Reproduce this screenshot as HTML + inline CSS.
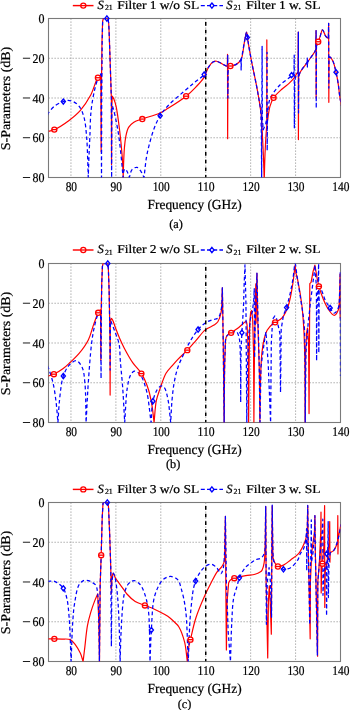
<!DOCTYPE html><html><head><meta charset="utf-8"><style>html,body{margin:0;padding:0;background:#fff;}svg{display:block;will-change:transform;}text{font-family:"Liberation Serif",serif;fill:#000;stroke:#000;stroke-width:0.22px;text-rendering:geometricPrecision;}</style></head><body>
<svg width="350" height="710" viewBox="0 0 350 710">
<rect x="0" y="0" width="350" height="710" fill="#fff"/>
<clipPath id="clip0"><rect x="48.50" y="18.50" width="292.00" height="159.00"/></clipPath>
<path d="M70.96 18.50 V177.50 M115.88 18.50 V177.50 M160.81 18.50 V177.50 M205.73 18.50 V177.50 M250.65 18.50 V177.50 M295.58 18.50 V177.50 M48.50 58.25 H340.50 M48.50 98.00 H340.50 M48.50 137.75 H340.50" stroke="#9a9a9a" stroke-width="0.95" stroke-dasharray="1.25 1.75" fill="none"/>
<rect x="48.50" y="18.50" width="292.00" height="159.00" fill="none" stroke="#7a7a7a" stroke-width="1.1"/>
<g clip-path="url(#clip0)">
<path d="M48.50 131.39 C50.45 130.79 52.04 130.65 54.34 129.60 C58.16 127.86 64.30 123.95 68.72 120.66 C72.95 117.50 76.85 114.36 80.40 110.32 C84.25 105.93 87.81 100.43 90.73 95.02 C93.66 89.57 95.76 79.93 97.92 77.73 C98.70 76.93 99.41 77.06 100.16 76.73 L100.16 76.73 L100.88 78.12 L101.15 151.66 L101.33 98.00 L101.96 42.35 L102.63 21.48 L103.31 18.50 L108.02 18.50 L108.70 23.47 L109.15 32.41 L110.18 63.02 L111.39 98.79 L111.53 164.58 L111.75 107.94 L112.29 96.21 L112.29 96.21 C112.81 97.14 113.35 97.79 113.86 98.99 C114.68 100.93 115.46 103.55 116.20 106.94 C117.47 112.76 118.72 122.96 119.70 130.99 C120.68 139.00 121.48 147.16 122.08 155.04 C122.67 162.65 122.89 170.01 123.30 177.50 L123.16 177.50 C123.36 171.54 123.51 164.97 123.75 159.61 C123.94 155.23 124.07 151.57 124.42 147.69 C124.75 143.96 125.03 140.23 125.77 136.76 C126.46 133.49 127.08 129.92 128.60 127.41 C129.92 125.24 131.73 123.63 133.85 122.25 C136.21 120.71 138.97 120.07 142.30 118.87 C146.98 117.17 154.77 115.37 159.42 113.30 C162.86 111.77 164.65 110.42 168.00 108.34 C172.96 105.24 181.12 100.17 186.10 96.21 C190.00 93.11 192.85 90.20 195.85 87.07 C198.70 84.10 201.60 81.25 203.71 77.93 C205.77 74.68 206.66 70.22 208.43 67.39 C209.80 65.19 211.32 62.99 212.92 62.03 C214.09 61.32 215.29 61.07 216.60 61.23 C218.24 61.43 220.13 62.93 221.90 63.82 C223.70 64.72 225.50 65.67 227.29 66.60 L227.29 66.60 L227.52 54.47 L227.65 138.74 L227.97 68.19 L228.64 66.60 L228.64 66.60 C229.24 66.40 229.67 66.23 230.44 66.00 C231.75 65.62 234.16 65.54 235.83 64.61 C237.72 63.55 239.66 62.08 241.00 59.64 C243.08 55.81 243.33 47.37 244.36 42.35 C245.17 38.46 245.97 31.99 246.61 32.02 C247.24 32.03 247.53 38.39 248.18 42.35 C249.07 47.75 250.28 54.76 251.55 61.43 C252.96 68.81 255.02 78.00 256.31 84.68 C257.29 89.73 257.99 93.46 258.74 98.00 C259.52 102.73 260.32 107.20 260.90 112.51 C261.59 118.91 261.92 126.48 262.33 133.78 C262.78 141.49 263.15 150.04 263.46 157.62 C263.74 164.55 263.91 170.87 264.13 177.50 L264.31 177.50 C264.55 169.55 264.68 161.60 265.03 153.65 C265.37 145.70 266.04 134.41 266.38 129.80 C266.52 127.92 266.62 127.15 266.74 125.83 L266.74 125.83 L266.83 39.97 L266.92 123.84 L267.10 123.64 L267.10 123.64 C268.05 117.88 268.61 111.04 269.97 106.35 C270.96 102.93 271.77 100.51 273.56 97.80 C275.62 94.70 279.31 91.63 282.10 89.06 C284.54 86.81 287.17 85.07 289.29 83.09 C291.14 81.36 292.91 79.70 294.23 77.93 C295.38 76.37 296.15 74.12 296.92 73.16 C297.33 72.65 297.67 72.49 298.05 72.16 L298.05 72.16 L298.27 32.21 L298.41 139.54 L298.63 77.33 L298.63 77.33 C299.04 75.87 299.04 74.65 299.84 72.96 C301.19 70.11 304.77 65.97 307.26 62.42 C309.79 58.82 313.64 53.79 314.89 51.49 C315.42 50.53 315.49 50.04 315.79 49.31 L315.79 49.31 L316.02 30.62 L316.15 98.00 L316.33 46.33 L316.33 46.33 C316.96 44.80 317.63 43.27 318.22 41.75 C318.79 40.29 319.23 39.04 319.84 37.38 C320.63 35.21 321.54 29.88 322.53 29.83 C323.43 29.78 324.41 34.35 325.45 35.79 C326.17 36.78 327.15 37.56 327.70 37.98 C327.97 38.19 328.15 38.24 328.37 38.38 L328.37 38.38 L328.64 23.27 L328.82 102.37 L329.04 57.26 L329.04 57.26 C329.27 57.12 329.44 56.80 329.72 56.86 C330.43 57.00 331.95 59.20 332.86 61.03 C334.22 63.76 335.12 68.37 336.01 72.16 C336.92 76.05 337.65 80.17 338.25 84.09 C338.84 87.85 339.07 91.55 339.60 95.22 C340.12 98.83 340.80 102.37 341.40 105.95" stroke="#ff0000" stroke-width="1.2" fill="none" stroke-linejoin="round"/>
<path d="M47.60 114.89 C47.90 114.23 47.96 113.72 48.50 112.91 C49.65 111.16 52.69 107.46 55.24 105.55 C57.66 103.74 60.98 102.45 63.32 101.58 C65.01 100.95 66.25 100.42 67.82 100.39 C69.53 100.35 71.47 100.76 73.21 101.58 C75.23 102.53 77.39 104.02 79.05 106.15 C81.17 108.87 82.76 112.90 83.99 117.28 C85.59 122.98 86.05 130.51 86.68 137.75 C87.39 145.85 87.53 156.30 87.81 163.59 C88.01 168.94 88.11 172.86 88.26 177.50 L88.26 177.50 C88.48 170.87 88.67 164.25 88.93 157.62 C89.19 151.00 89.50 144.88 89.83 137.75 C90.21 129.43 90.19 119.06 91.09 110.72 C91.87 103.45 93.18 96.28 94.50 90.45 C95.53 85.92 96.80 81.69 97.92 78.52 C98.68 76.35 99.63 73.10 100.16 73.16 C100.65 73.21 100.76 76.47 101.06 78.12 L101.06 78.12 L101.51 177.50 L101.73 98.00 L102.18 42.35 L102.63 21.48 L103.31 18.50 L108.02 18.50 L108.70 23.47 L109.15 32.41 L110.18 63.02 L111.39 98.79 L111.62 177.50 L111.84 109.92 L112.29 105.75 L112.29 105.75 C112.74 107.14 113.12 107.98 113.64 109.92 C114.78 114.23 116.79 123.71 118.00 130.99 C119.28 138.72 120.15 147.16 121.01 155.04 C121.83 162.65 122.38 170.01 123.07 177.50 L123.07 177.50 C123.37 175.18 123.40 172.00 123.97 170.54 C124.27 169.78 124.66 168.96 125.09 168.95 C125.66 168.94 126.50 170.44 127.12 171.54 C127.97 173.07 128.61 175.51 129.36 177.50 L129.36 177.50 C130.26 174.85 130.52 171.23 132.06 169.55 C133.29 168.20 135.52 167.08 137.00 167.36 C138.53 167.66 139.90 169.92 141.04 171.54 C142.26 173.27 143.02 175.51 144.01 177.50 L144.01 177.50 C144.82 170.88 145.45 163.47 146.43 157.62 C147.22 152.95 147.97 149.58 149.13 145.10 C150.49 139.82 152.30 133.18 154.29 128.01 C156.03 123.50 157.79 119.45 160.13 115.69 C162.39 112.06 164.77 109.19 168.00 105.75 C172.10 101.38 178.54 96.17 183.27 92.04 C187.27 88.54 190.88 85.52 194.50 82.50 C197.84 79.71 201.80 77.35 204.20 74.55 C206.16 72.26 206.90 69.55 208.43 67.39 C209.83 65.41 211.32 62.99 212.92 62.03 C214.09 61.32 215.29 61.07 216.60 61.23 C218.24 61.43 220.11 62.93 221.90 63.82 C223.75 64.72 225.65 65.67 227.52 66.60 L227.52 66.60 L227.74 55.27 L227.88 98.00 L228.19 68.19 L228.64 66.60 L228.64 66.60 C229.24 66.40 229.67 66.23 230.44 66.00 C231.75 65.62 234.17 65.49 235.83 64.61 C237.64 63.65 239.12 61.70 240.77 60.24 L240.77 60.24 L241.00 57.85 L241.13 69.98 L241.44 59.24 L241.44 59.24 C242.42 53.61 243.40 47.28 244.36 42.35 C245.12 38.47 245.97 31.99 246.61 32.02 C247.24 32.03 247.53 38.39 248.18 42.35 C249.07 47.75 250.28 54.76 251.55 61.43 C252.96 68.81 255.02 78.00 256.31 84.68 C257.29 89.73 258.02 93.68 258.74 98.00 C259.42 102.08 260.12 105.54 260.54 109.92 C261.04 115.27 261.04 120.36 261.21 127.81 C261.50 140.23 261.51 160.94 261.66 177.50 L261.66 177.50 L261.88 98.00 L262.11 46.33 L262.33 117.88 L263.23 129.80 L265.70 123.64 L266.92 117.88 L267.05 52.29 L267.19 150.67 L267.50 113.90 L267.50 113.90 C268.32 108.93 268.14 103.56 269.97 98.99 C271.80 94.42 275.04 90.26 278.51 86.47 C282.16 82.47 289.00 78.50 291.53 75.74 C292.82 74.34 293.18 73.35 294.00 72.16 L294.00 72.16 L294.23 55.07 L294.36 127.81 L294.68 80.11 L294.68 80.11 C295.28 78.46 295.82 76.57 296.48 75.14 C297.01 74.00 297.61 73.16 298.18 72.16 L298.18 72.16 L298.36 32.21 L298.50 112.91 L298.72 77.33 L298.72 77.33 C299.10 75.87 299.08 74.65 299.84 72.96 C301.13 70.11 304.64 65.94 307.03 62.42 L307.03 62.42 L307.26 58.05 L307.39 67.00 L307.71 62.03 L307.71 62.03 C310.10 58.51 313.69 53.73 314.89 51.49 C315.41 50.53 315.49 50.04 315.79 49.31 L315.79 49.31 L316.11 30.62 L316.24 108.34 L316.47 46.33 L316.47 46.33 C317.05 44.80 317.65 43.26 318.22 41.75 C318.77 40.28 319.23 39.04 319.84 37.38 C320.63 35.21 321.54 29.88 322.53 29.83 C323.43 29.78 324.41 34.35 325.45 35.79 C326.17 36.78 327.15 37.56 327.70 37.98 C327.97 38.19 328.15 38.24 328.37 38.38 L328.37 38.38 L328.64 23.27 L328.82 88.06 L329.04 57.26 L329.04 57.26 C329.27 57.12 329.44 56.80 329.72 56.86 C330.43 57.00 331.95 59.20 332.86 61.03 C334.22 63.76 335.12 68.37 336.01 72.16 C336.92 76.05 337.65 80.17 338.25 84.09 C338.84 87.85 339.07 91.55 339.60 95.22 C340.12 98.83 340.80 102.37 341.40 105.95" stroke="#0000ff" stroke-width="1.25" fill="none" stroke-dasharray="3.7 2.7" stroke-linejoin="round"/>
<path d="M205.73 18.50 V177.50" stroke="#000" stroke-width="1.5" stroke-dasharray="3.6 4.05" stroke-dashoffset="4.1"/>
</g>
<circle cx="54.34" cy="129.60" r="2.55" fill="#fff" stroke="#ff0000" stroke-width="1.3"/><path d="M51.79 129.60 h5.1" stroke="#ff0000" stroke-width="1.3"/>
<circle cx="97.92" cy="77.73" r="2.55" fill="#fff" stroke="#ff0000" stroke-width="1.3"/><path d="M95.37 77.73 h5.1" stroke="#ff0000" stroke-width="1.3"/>
<circle cx="142.30" cy="119.07" r="2.55" fill="#fff" stroke="#ff0000" stroke-width="1.3"/><path d="M139.75 119.07 h5.1" stroke="#ff0000" stroke-width="1.3"/>
<circle cx="186.10" cy="96.21" r="2.55" fill="#fff" stroke="#ff0000" stroke-width="1.3"/><path d="M183.55 96.21 h5.1" stroke="#ff0000" stroke-width="1.3"/>
<circle cx="230.44" cy="66.00" r="2.55" fill="#fff" stroke="#ff0000" stroke-width="1.3"/><path d="M227.89 66.00 h5.1" stroke="#ff0000" stroke-width="1.3"/>
<circle cx="273.56" cy="97.80" r="2.55" fill="#fff" stroke="#ff0000" stroke-width="1.3"/><path d="M271.01 97.80 h5.1" stroke="#ff0000" stroke-width="1.3"/>
<circle cx="318.22" cy="41.75" r="2.55" fill="#fff" stroke="#ff0000" stroke-width="1.3"/><path d="M315.67 41.75 h5.1" stroke="#ff0000" stroke-width="1.3"/>
<path d="M63.32 98.98 L65.40 101.58 L63.32 104.18 L61.24 101.58 Z" fill="none" stroke="#0000ff" stroke-width="1.35" stroke-linejoin="miter"/>
<path d="M106.90 15.90 L108.98 18.50 L106.90 21.10 L104.82 18.50 Z" fill="none" stroke="#0000ff" stroke-width="1.35" stroke-linejoin="miter"/>
<path d="M160.13 113.09 L162.21 115.69 L160.13 118.29 L158.05 115.69 Z" fill="none" stroke="#0000ff" stroke-width="1.35" stroke-linejoin="miter"/>
<path d="M204.20 71.95 L206.28 74.55 L204.20 77.15 L202.12 74.55 Z" fill="none" stroke="#0000ff" stroke-width="1.35" stroke-linejoin="miter"/>
<path d="M247.28 34.78 L249.36 37.38 L247.28 39.98 L245.20 37.38 Z" fill="none" stroke="#0000ff" stroke-width="1.35" stroke-linejoin="miter"/>
<path d="M291.53 72.54 L293.61 75.14 L291.53 77.74 L289.45 75.14 Z" fill="none" stroke="#0000ff" stroke-width="1.35" stroke-linejoin="miter"/>
<path d="M336.01 69.56 L338.09 72.16 L336.01 74.76 L333.93 72.16 Z" fill="none" stroke="#0000ff" stroke-width="1.35" stroke-linejoin="miter"/>
<text x="44.4" y="23.00" font-size="13.1" text-anchor="end" textLength="6.00" lengthAdjust="spacingAndGlyphs">0</text>
<text x="44.4" y="62.75" font-size="13.1" text-anchor="end" textLength="12.00" lengthAdjust="spacingAndGlyphs">20</text>
<rect x="22.9" y="57.75" width="7.2" height="0.95" fill="#111"/>
<text x="44.4" y="102.50" font-size="13.1" text-anchor="end" textLength="12.00" lengthAdjust="spacingAndGlyphs">40</text>
<rect x="22.9" y="97.50" width="7.2" height="0.95" fill="#111"/>
<text x="44.4" y="142.25" font-size="13.1" text-anchor="end" textLength="12.00" lengthAdjust="spacingAndGlyphs">60</text>
<rect x="22.9" y="137.25" width="7.2" height="0.95" fill="#111"/>
<text x="44.4" y="182.00" font-size="13.1" text-anchor="end" textLength="12.00" lengthAdjust="spacingAndGlyphs">80</text>
<rect x="22.9" y="177.00" width="7.2" height="0.95" fill="#111"/>
<text x="71.36" y="190.50" font-size="13.2" text-anchor="middle" textLength="11.40" lengthAdjust="spacingAndGlyphs">80</text>
<text x="116.28" y="190.50" font-size="13.2" text-anchor="middle" textLength="11.40" lengthAdjust="spacingAndGlyphs">90</text>
<text x="161.21" y="190.50" font-size="13.2" text-anchor="middle" textLength="17.10" lengthAdjust="spacingAndGlyphs">100</text>
<text x="206.13" y="190.50" font-size="13.2" text-anchor="middle" textLength="17.10" lengthAdjust="spacingAndGlyphs">110</text>
<text x="251.05" y="190.50" font-size="13.2" text-anchor="middle" textLength="17.10" lengthAdjust="spacingAndGlyphs">120</text>
<text x="295.98" y="190.50" font-size="13.2" text-anchor="middle" textLength="17.10" lengthAdjust="spacingAndGlyphs">130</text>
<text x="340.90" y="190.50" font-size="13.2" text-anchor="middle" textLength="17.10" lengthAdjust="spacingAndGlyphs">140</text>
<text x="194.6" y="209.00" font-size="13.8" text-anchor="middle" textLength="94" lengthAdjust="spacingAndGlyphs">Frequency (GHz)</text>
<text x="176.00" y="227.70" font-size="12.3" text-anchor="middle">(a)</text>
<text transform="translate(9.8 98.50) rotate(-90)" font-size="13.3" text-anchor="middle" textLength="103.5" lengthAdjust="spacingAndGlyphs">S-Parameters (dB)</text>
<path d="M72.8 5.60 H93.5" stroke="#ff0000" stroke-width="1.45"/>
<circle cx="83.30" cy="5.60" r="2.55" fill="#fff" stroke="#ff0000" stroke-width="1.3"/><path d="M80.75 5.60 h5.1" stroke="#ff0000" stroke-width="1.3"/>
<text x="97.6" y="9.00" font-size="12.6" font-style="italic">S</text><text x="104.9" y="10.20" font-size="7.8">21</text>
<text x="117.2" y="9.00" font-size="12" textLength="82" lengthAdjust="spacingAndGlyphs">Filter 1 w/o SL</text>
<path d="M200.8 5.60 H223" stroke="#0000ff" stroke-width="1.4" stroke-dasharray="4 2.2"/>
<path d="M211.90 3.00 L213.98 5.60 L211.90 8.20 L209.82 5.60 Z" fill="none" stroke="#0000ff" stroke-width="1.35" stroke-linejoin="miter"/>
<text x="226.2" y="9.00" font-size="12.6" font-style="italic">S</text><text x="233.6" y="10.20" font-size="7.8">21</text>
<text x="246.2" y="9.00" font-size="12" textLength="74.3" lengthAdjust="spacingAndGlyphs">Filter 1 w. SL</text>
<clipPath id="clip1"><rect x="48.50" y="263.50" width="292.00" height="159.00"/></clipPath>
<path d="M70.96 263.50 V422.50 M115.88 263.50 V422.50 M160.81 263.50 V422.50 M205.73 263.50 V422.50 M250.65 263.50 V422.50 M295.58 263.50 V422.50 M48.50 303.25 H340.50 M48.50 343.00 H340.50 M48.50 382.75 H340.50" stroke="#9a9a9a" stroke-width="0.95" stroke-dasharray="1.25 1.75" fill="none"/>
<rect x="48.50" y="263.50" width="292.00" height="159.00" fill="none" stroke="#7a7a7a" stroke-width="1.1"/>
<g clip-path="url(#clip1)">
<path d="M47.60 376.39 C47.90 376.26 48.07 376.16 48.50 375.99 C49.54 375.59 51.92 375.11 53.89 374.20 C56.57 372.98 60.11 370.86 62.88 368.84 C65.56 366.87 67.76 364.65 70.29 362.28 C73.09 359.65 76.13 357.07 78.91 353.73 C82.17 349.83 85.87 344.86 88.30 340.02 C90.67 335.31 91.70 329.83 93.42 325.11 C95.00 320.79 96.84 315.32 98.18 312.79 C98.84 311.55 99.38 311.07 99.98 310.21 L99.98 310.21 L100.61 309.81 L100.84 360.49 L101.15 313.19 L101.73 283.38 L102.41 266.48 L103.08 263.50 L107.80 263.50 L108.34 268.47 L109.15 291.32 L109.95 339.02 L110.13 395.07 L110.31 327.10 L110.72 320.14 L110.72 320.14 C110.94 319.55 111.08 318.39 111.39 318.36 C111.74 318.31 112.27 319.42 112.74 320.34 C113.64 322.10 114.64 325.68 115.70 328.49 C116.87 331.55 118.09 334.83 119.48 338.03 C120.93 341.38 122.36 344.52 124.29 348.17 C126.66 352.66 129.83 358.48 132.87 362.88 C135.57 366.79 138.92 369.32 141.40 373.41 C144.24 378.09 146.72 384.22 148.50 389.71 C150.20 394.96 151.08 400.20 152.00 405.61 C152.95 411.13 153.38 416.87 154.07 422.50 L154.07 422.50 C154.82 415.21 155.07 406.72 156.32 400.64 C157.24 396.13 158.48 393.24 159.91 389.11 C161.61 384.21 163.61 377.35 166.02 373.21 C167.82 370.11 170.02 368.22 172.04 365.86 C173.98 363.59 175.65 361.62 177.88 359.30 C180.60 356.46 184.30 353.29 187.31 350.15 C190.29 347.06 192.94 343.90 195.85 340.62 C198.92 337.15 201.95 332.55 205.28 329.88 C208.06 327.66 211.74 326.69 214.00 325.11 C215.62 323.98 216.79 323.30 217.86 321.73 C219.30 319.62 220.25 316.73 221.00 312.99 C222.25 306.82 221.90 296.16 222.35 287.75 L222.35 287.75 L223.25 343.00 L224.15 422.50 L224.15 422.50 C224.45 399.31 224.23 368.18 225.05 352.94 C225.45 345.46 224.79 339.52 226.62 336.24 C227.68 334.35 229.48 334.05 231.11 332.86 C233.02 331.48 235.40 330.03 237.40 328.49 C239.36 326.98 241.40 325.02 243.02 323.72 C244.20 322.77 245.49 321.09 246.16 321.34 C246.83 321.58 246.76 323.85 247.06 325.11 L247.06 325.11 L247.73 339.02 L248.41 362.88 L248.63 422.50 L249.08 362.88 L249.76 323.12 L250.65 312.19 L251.55 310.60 L252.68 319.15 L253.57 352.94 L253.89 422.50 L254.47 352.94 L255.15 313.19 L255.82 283.97 L256.04 323.12 L256.49 303.25 L256.94 273.24 L257.84 323.12 L259.41 372.81 L259.86 422.50 L259.86 422.50 C260.09 407.93 260.11 391.44 260.54 378.77 C260.87 369.03 261.11 360.21 261.88 352.94 C262.46 347.57 263.11 343.09 264.13 339.02 C264.96 335.73 265.63 332.88 267.14 330.28 C268.63 327.72 271.57 324.80 273.12 323.52 C273.90 322.87 274.27 322.88 275.14 322.33 C276.81 321.28 280.28 319.89 282.32 317.56 C284.90 314.62 286.76 309.98 288.39 305.24 C290.40 299.38 291.53 291.55 292.66 284.77 C293.76 278.16 294.30 271.65 295.13 265.09 L295.13 265.09 C295.43 267.81 295.56 270.61 296.03 273.24 C296.47 275.77 297.17 277.41 297.82 280.59 C299.00 286.38 300.86 296.95 301.87 305.24 C302.88 313.58 303.40 321.81 303.89 330.48 C304.40 339.67 304.58 347.54 304.79 358.90 C305.10 375.89 305.00 401.30 305.10 422.50 L305.10 422.50 L305.68 352.94 L306.58 333.06 L307.48 328.09 L308.60 343.00 L309.05 413.56 L309.50 333.06 L309.82 283.57 L311.08 282.38 L313.10 271.45 L314.89 265.09 L317.14 278.41 L317.14 278.41 C317.74 281.06 318.10 283.40 318.94 286.36 C320.03 290.21 321.70 295.40 323.43 299.47 C325.03 303.24 326.78 307.21 328.82 310.01 C330.46 312.25 332.60 315.49 334.21 315.37 C335.72 315.27 337.37 312.24 338.25 310.01 C339.36 307.20 339.12 303.11 339.38 299.47 C339.66 295.58 339.68 291.39 339.83 287.35 L339.83 287.35 L340.05 274.03 L340.19 318.55" stroke="#ff0000" stroke-width="1.2" fill="none" stroke-linejoin="round"/>
<path d="M47.60 365.86 C47.90 366.65 48.11 367.10 48.50 368.24 C49.45 371.02 51.77 377.49 52.99 382.75 C54.40 388.81 55.31 395.99 56.14 402.62 C56.96 409.24 57.33 415.88 57.93 422.50 L57.93 422.50 C58.38 415.88 58.65 409.24 59.28 402.62 C59.91 395.99 60.83 387.61 61.71 382.75 C62.22 379.89 62.42 378.42 63.32 375.99 C64.50 372.85 66.34 368.27 68.72 365.66 C70.81 363.35 74.10 360.37 76.35 360.69 C78.58 361.00 80.79 364.50 82.19 367.45 C84.04 371.34 84.24 376.43 84.89 382.75 C85.93 392.87 85.70 409.25 86.10 422.50 L86.10 422.50 C86.45 415.88 86.77 409.25 87.13 402.62 C87.50 396.00 87.75 390.51 88.30 382.75 C89.08 371.77 90.33 353.25 91.63 343.00 C92.45 336.49 93.23 332.02 94.32 327.10 C95.29 322.76 96.55 317.83 97.69 314.98 C98.36 313.31 99.19 311.18 99.71 311.20 C100.09 311.21 100.31 312.52 100.61 313.19 L100.61 313.19 L101.06 378.58 L101.28 323.12 L101.73 283.38 L102.41 266.48 L103.08 263.50 L107.80 263.50 L108.34 268.47 L109.15 291.32 L109.95 339.02 L110.13 370.03 L110.40 323.12 L110.81 320.94 L110.81 320.94 C112.20 324.58 113.64 328.13 114.99 331.87 C116.38 335.75 118.12 339.35 119.03 343.79 C120.11 349.09 119.84 355.22 120.38 361.68 C121.01 369.33 121.95 377.63 122.62 386.73 C123.42 397.58 124.00 410.57 124.69 422.50 L124.69 422.50 C125.56 410.97 125.84 396.66 127.30 387.92 C128.20 382.45 129.04 377.67 130.71 374.80 C131.74 373.04 133.05 371.49 134.39 371.22 C135.62 370.98 137.20 371.99 138.35 372.81 C139.55 373.68 140.40 374.66 141.40 376.39 C143.24 379.59 145.23 385.48 146.70 391.50 C148.75 399.91 149.64 412.17 151.10 422.50 L151.10 422.50 C151.70 415.41 151.57 407.17 152.90 401.23 C153.91 396.73 155.43 392.37 157.21 389.71 C158.41 387.92 159.94 386.09 161.26 385.93 C162.32 385.80 163.50 386.60 164.40 387.72 C166.00 389.71 166.87 394.25 167.82 398.65 C169.18 405.02 169.73 414.55 170.69 422.50 L170.69 422.50 C171.14 414.95 171.38 406.94 172.04 399.84 C172.62 393.52 173.24 387.58 174.28 381.95 C175.24 376.84 176.26 372.20 177.88 367.45 C179.53 362.59 181.96 357.77 184.17 353.14 C186.31 348.64 188.49 344.08 190.91 340.02 C193.15 336.24 195.51 332.46 198.09 329.49 C200.35 326.89 202.74 324.58 205.28 322.93 C207.56 321.44 210.22 320.57 212.47 319.75 C214.37 319.05 216.48 319.39 217.86 318.16 C219.52 316.67 220.25 313.88 221.00 310.60 C222.27 305.12 221.90 295.37 222.35 287.75 L222.35 287.75 L223.25 343.00 L224.15 422.50 L224.15 422.50 C224.45 399.31 224.23 368.18 225.05 352.94 C225.45 345.46 224.79 339.52 226.62 336.24 C227.68 334.35 229.48 333.63 231.11 332.86 C232.70 332.12 234.98 331.06 236.28 331.67 C237.66 332.32 238.31 334.64 238.97 337.04 C240.12 341.18 240.02 347.53 240.32 354.93 C240.82 366.93 240.56 386.46 240.68 402.23 L240.68 402.23 L241.00 352.94 L241.89 332.66 L243.47 307.23 L244.18 283.38 L244.99 264.89 L245.94 303.25 L246.79 422.50 L247.51 362.88 L248.86 333.06 L250.65 317.16 L252.45 311.20 L253.80 299.27 L254.25 288.74 L254.61 357.91 L255.15 323.12 L256.04 299.27 L256.94 273.24 L257.84 313.19 L259.19 362.88 L260.00 422.50 L260.99 366.85 L264.13 343.00 L265.93 331.87 L268.17 362.88 L270.60 422.50 L271.32 343.00 L272.67 319.15 L274.91 315.97 L276.71 319.15 L279.85 333.06 L280.53 392.49 L281.20 329.09 L283.45 315.18 L286.59 307.62 L286.59 307.62 C287.79 302.85 289.13 298.06 290.19 293.31 C291.22 288.66 292.08 284.20 292.88 279.40 C293.74 274.29 294.41 263.50 295.13 263.50 C295.75 263.50 296.20 270.70 296.92 275.43 C297.99 282.36 299.74 292.78 300.97 301.06 C302.12 308.84 303.42 315.12 304.11 323.72 C305.02 334.98 304.82 348.46 305.01 362.88 C305.25 380.67 305.16 402.62 305.24 422.50 L305.24 422.50 L305.91 352.94 L308.16 323.12 L310.85 299.27 L313.10 281.39 L314.44 271.05 L314.89 265.09 L316.02 281.39 L316.42 287.35 L316.60 360.89 L316.92 313.19 L318.26 279.40 L318.62 263.50 L318.80 352.94 L319.16 291.32 L319.16 291.32 C319.78 290.86 320.38 289.76 321.00 289.93 C322.37 290.31 323.60 297.14 325.23 300.27 C326.70 303.11 328.55 305.73 330.17 308.02 C331.54 309.95 332.86 313.19 334.21 313.19 C335.56 313.19 337.33 310.36 338.25 308.02 C339.65 304.51 339.30 298.15 339.60 293.31 C339.89 288.61 339.90 284.04 340.05 279.40 L340.05 279.40 L340.28 271.45 L340.50 375.99" stroke="#0000ff" stroke-width="1.25" fill="none" stroke-dasharray="3.7 2.7" stroke-linejoin="round"/>
<path d="M205.73 263.50 V422.50" stroke="#000" stroke-width="1.5" stroke-dasharray="3.6 4.05" stroke-dashoffset="4.1"/>
</g>
<circle cx="53.89" cy="374.20" r="2.55" fill="#fff" stroke="#ff0000" stroke-width="1.3"/><path d="M51.34 374.20 h5.1" stroke="#ff0000" stroke-width="1.3"/>
<circle cx="98.18" cy="312.79" r="2.55" fill="#fff" stroke="#ff0000" stroke-width="1.3"/><path d="M95.63 312.79 h5.1" stroke="#ff0000" stroke-width="1.3"/>
<circle cx="141.40" cy="373.61" r="2.55" fill="#fff" stroke="#ff0000" stroke-width="1.3"/><path d="M138.85 373.61 h5.1" stroke="#ff0000" stroke-width="1.3"/>
<circle cx="187.31" cy="350.15" r="2.55" fill="#fff" stroke="#ff0000" stroke-width="1.3"/><path d="M184.76 350.15 h5.1" stroke="#ff0000" stroke-width="1.3"/>
<circle cx="231.11" cy="332.86" r="2.55" fill="#fff" stroke="#ff0000" stroke-width="1.3"/><path d="M228.56 332.86 h5.1" stroke="#ff0000" stroke-width="1.3"/>
<circle cx="275.14" cy="322.33" r="2.55" fill="#fff" stroke="#ff0000" stroke-width="1.3"/><path d="M272.59 322.33 h5.1" stroke="#ff0000" stroke-width="1.3"/>
<circle cx="318.94" cy="286.36" r="2.55" fill="#fff" stroke="#ff0000" stroke-width="1.3"/><path d="M316.39 286.36 h5.1" stroke="#ff0000" stroke-width="1.3"/>
<path d="M63.32 373.39 L65.40 375.99 L63.32 378.59 L61.24 375.99 Z" fill="none" stroke="#0000ff" stroke-width="1.35" stroke-linejoin="miter"/>
<path d="M107.80 260.90 L109.88 263.50 L107.80 266.10 L105.72 263.50 Z" fill="none" stroke="#0000ff" stroke-width="1.35" stroke-linejoin="miter"/>
<path d="M152.90 398.63 L154.98 401.23 L152.90 403.83 L150.82 401.23 Z" fill="none" stroke="#0000ff" stroke-width="1.35" stroke-linejoin="miter"/>
<path d="M198.09 326.88 L200.17 329.49 L198.09 332.09 L196.01 329.49 Z" fill="none" stroke="#0000ff" stroke-width="1.35" stroke-linejoin="miter"/>
<path d="M241.89 330.06 L243.97 332.66 L241.89 335.26 L239.81 332.66 Z" fill="none" stroke="#0000ff" stroke-width="1.35" stroke-linejoin="miter"/>
<path d="M286.59 305.02 L288.67 307.62 L286.59 310.22 L284.51 307.62 Z" fill="none" stroke="#0000ff" stroke-width="1.35" stroke-linejoin="miter"/>
<path d="M330.17 305.42 L332.25 308.02 L330.17 310.62 L328.09 308.02 Z" fill="none" stroke="#0000ff" stroke-width="1.35" stroke-linejoin="miter"/>
<text x="44.4" y="268.00" font-size="13.1" text-anchor="end" textLength="6.00" lengthAdjust="spacingAndGlyphs">0</text>
<text x="44.4" y="307.75" font-size="13.1" text-anchor="end" textLength="12.00" lengthAdjust="spacingAndGlyphs">20</text>
<rect x="22.9" y="302.75" width="7.2" height="0.95" fill="#111"/>
<text x="44.4" y="347.50" font-size="13.1" text-anchor="end" textLength="12.00" lengthAdjust="spacingAndGlyphs">40</text>
<rect x="22.9" y="342.50" width="7.2" height="0.95" fill="#111"/>
<text x="44.4" y="387.25" font-size="13.1" text-anchor="end" textLength="12.00" lengthAdjust="spacingAndGlyphs">60</text>
<rect x="22.9" y="382.25" width="7.2" height="0.95" fill="#111"/>
<text x="44.4" y="427.00" font-size="13.1" text-anchor="end" textLength="12.00" lengthAdjust="spacingAndGlyphs">80</text>
<rect x="22.9" y="422.00" width="7.2" height="0.95" fill="#111"/>
<text x="71.36" y="435.50" font-size="13.2" text-anchor="middle" textLength="11.40" lengthAdjust="spacingAndGlyphs">80</text>
<text x="116.28" y="435.50" font-size="13.2" text-anchor="middle" textLength="11.40" lengthAdjust="spacingAndGlyphs">90</text>
<text x="161.21" y="435.50" font-size="13.2" text-anchor="middle" textLength="17.10" lengthAdjust="spacingAndGlyphs">100</text>
<text x="206.13" y="435.50" font-size="13.2" text-anchor="middle" textLength="17.10" lengthAdjust="spacingAndGlyphs">110</text>
<text x="251.05" y="435.50" font-size="13.2" text-anchor="middle" textLength="17.10" lengthAdjust="spacingAndGlyphs">120</text>
<text x="295.98" y="435.50" font-size="13.2" text-anchor="middle" textLength="17.10" lengthAdjust="spacingAndGlyphs">130</text>
<text x="340.90" y="435.50" font-size="13.2" text-anchor="middle" textLength="17.10" lengthAdjust="spacingAndGlyphs">140</text>
<text x="194.6" y="454.00" font-size="13.8" text-anchor="middle" textLength="94" lengthAdjust="spacingAndGlyphs">Frequency (GHz)</text>
<text x="173.10" y="467.60" font-size="12.3" text-anchor="middle">(b)</text>
<text transform="translate(9.8 343.50) rotate(-90)" font-size="13.3" text-anchor="middle" textLength="103.5" lengthAdjust="spacingAndGlyphs">S-Parameters (dB)</text>
<path d="M72.8 250.00 H93.5" stroke="#ff0000" stroke-width="1.45"/>
<circle cx="83.30" cy="250.00" r="2.55" fill="#fff" stroke="#ff0000" stroke-width="1.3"/><path d="M80.75 250.00 h5.1" stroke="#ff0000" stroke-width="1.3"/>
<text x="97.6" y="253.40" font-size="12.6" font-style="italic">S</text><text x="104.9" y="254.60" font-size="7.8">21</text>
<text x="117.2" y="253.40" font-size="12" textLength="82" lengthAdjust="spacingAndGlyphs">Filter 2 w/o SL</text>
<path d="M200.8 250.00 H223" stroke="#0000ff" stroke-width="1.4" stroke-dasharray="4 2.2"/>
<path d="M211.90 247.40 L213.98 250.00 L211.90 252.60 L209.82 250.00 Z" fill="none" stroke="#0000ff" stroke-width="1.35" stroke-linejoin="miter"/>
<text x="226.2" y="253.40" font-size="12.6" font-style="italic">S</text><text x="233.6" y="254.60" font-size="7.8">21</text>
<text x="246.2" y="253.40" font-size="12" textLength="74.3" lengthAdjust="spacingAndGlyphs">Filter 2 w. SL</text>
<clipPath id="clip2"><rect x="48.50" y="502.50" width="292.00" height="159.00"/></clipPath>
<path d="M70.96 502.50 V661.50 M115.88 502.50 V661.50 M160.81 502.50 V661.50 M205.73 502.50 V661.50 M250.65 502.50 V661.50 M295.58 502.50 V661.50 M48.50 542.25 H340.50 M48.50 582.00 H340.50 M48.50 621.75 H340.50" stroke="#9a9a9a" stroke-width="0.95" stroke-dasharray="1.25 1.75" fill="none"/>
<rect x="48.50" y="502.50" width="292.00" height="159.00" fill="none" stroke="#7a7a7a" stroke-width="1.1"/>
<g clip-path="url(#clip2)">
<path d="M47.60 638.84 C47.90 638.84 48.07 638.84 48.50 638.84 C49.60 638.84 52.26 638.82 54.34 638.84 C56.72 638.87 59.38 638.91 61.98 639.04 C64.69 639.17 68.00 638.59 70.29 639.64 C72.43 640.62 73.87 642.75 75.45 644.81 C77.29 647.20 79.10 650.47 80.40 653.35 C81.60 656.04 82.19 658.78 83.09 661.50 L83.09 661.50 C83.69 656.53 84.24 651.97 84.89 646.59 C85.65 640.27 86.28 632.05 87.40 625.92 C88.32 620.91 89.50 616.61 90.73 612.41 C91.83 608.65 93.08 605.12 94.32 601.88 C95.41 599.02 96.57 596.57 97.69 593.92 L97.69 593.92 L98.81 621.75 L99.49 661.50 L100.16 584.98 L101.19 555.17 L102.18 518.40 L102.99 503.49 L103.76 502.50 L107.80 502.50 L108.47 506.48 L109.60 532.31 L110.72 566.10 L111.39 593.53 L111.84 578.02 L111.84 578.02 C112.29 576.37 112.60 573.10 113.19 573.06 C113.79 573.01 114.58 576.54 115.44 578.02 C116.20 579.36 116.96 580.16 118.00 581.60 C119.57 583.80 122.37 587.71 123.97 589.95 C125.05 591.45 125.42 592.32 126.67 593.73 C128.64 595.94 132.08 599.51 135.20 601.48 C138.18 603.36 141.69 604.15 144.90 605.45 C148.08 606.74 151.18 607.77 154.38 609.23 C157.82 610.79 162.01 612.94 164.85 614.60 C166.91 615.79 168.35 616.67 170.02 617.97 C171.80 619.36 173.65 621.19 175.18 622.74 C176.52 624.10 177.61 624.81 178.78 626.72 C180.83 630.08 183.21 636.69 184.62 642.22 C186.15 648.22 186.41 655.07 187.31 661.50 L187.31 661.50 C187.76 656.86 188.02 651.56 188.66 647.59 C189.15 644.55 189.67 642.93 190.46 639.64 C191.75 634.18 193.52 625.18 195.85 617.97 C198.27 610.47 202.15 601.56 204.83 595.51 C206.70 591.30 208.11 588.65 210.00 584.98 C212.11 580.88 214.70 575.26 216.96 572.06 C218.49 569.90 220.28 568.72 221.45 567.09 C222.42 565.75 223.16 564.38 223.70 563.12 C224.14 562.08 224.30 561.13 224.60 560.14 L224.60 560.14 L225.41 516.41 L225.95 601.88 L226.40 649.97 L227.07 601.88 L228.64 582.79 L228.64 582.79 C229.24 581.87 229.59 580.75 230.44 580.01 C231.40 579.17 232.64 578.79 234.30 578.22 C237.06 577.28 242.09 576.32 245.71 575.64 C248.96 575.03 252.42 574.99 255.01 574.25 C257.00 573.68 258.83 572.91 260.09 572.06 C260.99 571.46 261.53 571.05 262.11 570.08 C263.04 568.50 263.63 565.96 264.13 562.92 C264.97 557.85 264.88 549.14 265.25 542.25 L265.25 542.25 L265.70 506.48 L266.15 582.00 L267.72 657.92 L268.40 601.88 L269.30 585.78 L270.20 601.88 L271.32 634.27 L271.77 562.12 L272.22 505.88 L272.67 542.25 L272.89 557.16 L272.89 557.16 C273.56 559.08 273.99 561.30 274.91 562.92 C275.72 564.34 276.60 566.07 277.92 566.50 C279.38 566.97 281.57 565.98 283.45 565.11 C285.79 564.02 288.26 561.71 290.64 559.94 C293.05 558.14 296.17 556.00 297.82 554.37 C298.86 553.36 299.26 552.87 300.07 551.59 C301.51 549.32 304.07 543.86 305.01 541.46 C305.51 540.19 305.62 539.72 305.91 538.47 C306.38 536.44 306.81 533.04 307.26 530.33 L307.26 530.33 L307.71 505.48 L308.16 542.25 L310.18 638.84 L310.40 582.00 L311.75 552.19 L314.44 532.31 L314.89 515.62 L315.34 552.19 L317.59 656.13 L317.81 582.00 L319.39 562.12 L320.73 532.31 L321.00 512.04 L321.18 592.93 L321.63 572.06 L322.40 563.72 L323.88 546.23 L324.60 505.48 L324.78 607.44 L325.23 572.06 L327.02 562.12 L329.27 542.25 L329.72 521.58 L329.94 562.12 L330.17 552.78 L330.17 552.78 C331.37 551.99 332.80 551.45 333.76 550.40 C334.77 549.29 335.36 547.62 336.01 546.23 C336.62 544.90 337.06 543.58 337.58 542.25 L337.58 542.25 L337.80 515.62 L337.94 553.98 L338.25 538.47 L338.25 538.47 C338.63 536.42 338.96 534.50 339.38 532.31 C339.85 529.83 340.43 527.01 340.95 524.36" stroke="#ff0000" stroke-width="1.2" fill="none" stroke-linejoin="round"/>
<path d="M47.60 581.40 C47.90 581.40 48.09 581.42 48.50 581.40 C49.43 581.36 51.60 580.81 52.99 581.01 C54.28 581.19 55.28 581.60 56.59 582.40 C58.58 583.61 61.63 585.83 63.32 588.36 C65.19 591.15 65.99 594.67 66.92 598.69 C68.15 604.03 68.54 610.10 69.16 617.77 C70.10 629.36 70.45 646.92 71.10 661.50 L71.10 661.50 C71.65 648.25 72.01 632.42 72.76 621.75 C73.27 614.54 73.55 609.71 74.56 603.66 C75.58 597.45 76.68 588.86 78.91 584.98 C80.20 582.75 81.84 581.28 83.54 580.61 C85.01 580.02 86.80 580.27 88.30 580.61 C89.79 580.94 91.24 581.76 92.52 582.60 C93.80 583.42 95.14 584.14 95.98 585.58 C97.13 587.54 97.25 590.31 97.69 593.92 C98.49 600.47 98.54 611.65 98.81 621.75 C99.15 633.82 99.20 648.25 99.40 661.50 L99.40 661.50 L100.16 584.98 L101.19 555.17 L102.18 518.40 L102.99 503.49 L103.76 502.50 L107.80 502.50 L108.47 506.48 L109.60 532.31 L110.72 566.10 L111.39 646.39 L111.84 582.00 L113.19 573.06 L113.19 573.06 C113.56 573.72 113.97 574.15 114.31 575.04 C114.92 576.63 115.41 579.19 115.88 582.00 C116.60 586.20 117.19 592.06 117.68 597.90 C118.29 605.04 118.65 612.79 119.03 621.75 C119.51 633.31 119.75 648.25 120.11 661.50 L120.11 661.50 C120.35 653.55 120.53 645.03 120.83 637.65 C121.08 631.26 121.35 625.72 121.72 619.76 C122.10 613.80 122.51 606.74 123.07 601.88 C123.47 598.50 123.68 596.12 124.42 593.33 C125.17 590.49 126.19 587.04 127.56 584.98 C128.58 583.45 129.91 582.33 131.16 581.60 C132.18 581.01 133.15 580.46 134.30 580.61 C135.90 580.81 138.17 582.36 139.69 583.99 C141.51 585.93 142.75 588.68 144.01 591.94 C145.77 596.51 147.21 601.84 148.23 609.23 C149.97 621.89 149.43 644.08 150.03 661.50 L150.03 661.50 C150.48 651.03 150.66 640.69 151.37 630.10 C152.10 619.23 152.10 605.90 154.38 597.11 C156.02 590.81 158.72 584.91 161.26 581.60 C162.81 579.58 164.47 578.49 166.20 577.63 C167.71 576.87 169.22 576.26 170.92 576.43 C173.05 576.65 176.20 577.99 177.88 579.81 C179.66 581.75 180.01 584.56 181.02 587.96 C182.62 593.34 184.38 600.52 185.52 609.23 C187.28 622.75 187.31 644.08 188.21 661.50 L188.21 661.50 C189.11 644.08 189.30 623.95 190.91 609.23 C192.09 598.34 192.68 588.56 195.62 581.01 C197.88 575.21 201.54 569.55 204.83 566.89 C206.98 565.16 209.51 564.06 211.57 564.31 C213.54 564.55 215.40 566.55 216.96 568.09 C218.56 569.66 219.94 573.78 221.00 573.65 C222.00 573.53 222.68 570.47 223.25 568.09 C224.18 564.20 224.15 557.49 224.60 552.19 L224.60 552.19 L225.41 516.41 L226.40 582.00 L228.19 631.69 L230.44 661.50 L230.44 661.50 C230.89 648.25 231.15 633.23 231.79 621.75 C232.27 612.96 232.42 605.04 233.58 598.50 C234.46 593.57 236.12 589.52 237.18 585.78 C238.01 582.82 238.24 580.60 239.42 577.83 C240.87 574.43 243.24 569.91 245.71 567.09 C247.83 564.68 251.21 562.82 252.90 561.53 C253.81 560.83 254.10 560.39 255.01 559.94 C256.29 559.31 258.81 559.14 260.09 558.55 C260.96 558.14 261.49 557.87 262.11 557.16 C263.05 556.08 264.02 554.34 264.58 552.19 C265.47 548.78 265.03 542.91 265.25 538.27 L265.25 538.27 L265.70 506.48 L266.15 582.00 L266.38 624.33 L267.28 582.00 L269.07 567.69 L270.42 582.00 L271.54 617.18 L271.86 542.25 L272.22 505.08 L272.89 552.19 L273.56 561.13 L273.56 561.13 C274.61 562.46 275.63 564.06 276.71 565.11 C277.59 565.95 278.39 566.45 279.40 567.09 C280.59 567.85 281.86 569.06 283.45 569.28 C285.46 569.56 288.42 568.96 290.64 567.69 C293.29 566.17 296.23 562.48 297.82 559.94 C299.04 557.99 299.12 556.03 300.07 554.17 C301.05 552.25 302.73 550.84 303.66 548.61 C304.83 545.82 305.47 541.45 305.91 538.47 C306.25 536.18 306.21 534.37 306.36 532.31 L306.36 532.31 L306.58 528.74 L306.72 570.87 L307.03 542.25 L307.71 505.48 L308.16 542.25 L309.73 624.93 L310.18 582.00 L311.08 542.25 L311.30 519.79 L311.52 562.12 L313.10 552.19 L314.67 532.31 L314.89 515.62 L315.34 552.19 L317.36 655.54 L317.81 582.00 L319.84 558.15 L322.08 532.31 L322.80 519.20 L322.98 595.32 L323.88 572.06 L326.12 562.12 L326.57 615.79 L327.02 572.06 L327.92 542.25 L328.19 521.58 L328.37 597.50 L329.04 562.12 L330.17 552.78 L330.17 552.78 C331.37 551.99 332.68 551.75 333.76 550.40 C335.61 548.07 337.07 542.67 338.25 538.47 C339.51 534.02 340.05 529.07 340.95 524.36" stroke="#0000ff" stroke-width="1.25" fill="none" stroke-dasharray="3.7 2.7" stroke-linejoin="round"/>
<path d="M205.73 502.50 V661.50" stroke="#000" stroke-width="1.5" stroke-dasharray="3.6 4.05" stroke-dashoffset="4.1"/>
</g>
<circle cx="54.34" cy="638.84" r="2.55" fill="#fff" stroke="#ff0000" stroke-width="1.3"/><path d="M51.79 638.84 h5.1" stroke="#ff0000" stroke-width="1.3"/>
<circle cx="101.19" cy="555.17" r="2.55" fill="#fff" stroke="#ff0000" stroke-width="1.3"/><path d="M98.64 555.17 h5.1" stroke="#ff0000" stroke-width="1.3"/>
<circle cx="144.90" cy="605.45" r="2.55" fill="#fff" stroke="#ff0000" stroke-width="1.3"/><path d="M142.35 605.45 h5.1" stroke="#ff0000" stroke-width="1.3"/>
<circle cx="190.46" cy="639.64" r="2.55" fill="#fff" stroke="#ff0000" stroke-width="1.3"/><path d="M187.91 639.64 h5.1" stroke="#ff0000" stroke-width="1.3"/>
<circle cx="234.30" cy="578.22" r="2.55" fill="#fff" stroke="#ff0000" stroke-width="1.3"/><path d="M231.75 578.22 h5.1" stroke="#ff0000" stroke-width="1.3"/>
<circle cx="277.92" cy="566.50" r="2.55" fill="#fff" stroke="#ff0000" stroke-width="1.3"/><path d="M275.37 566.50 h5.1" stroke="#ff0000" stroke-width="1.3"/>
<circle cx="322.40" cy="563.72" r="2.55" fill="#fff" stroke="#ff0000" stroke-width="1.3"/><path d="M319.85 563.72 h5.1" stroke="#ff0000" stroke-width="1.3"/>
<path d="M63.32 585.76 L65.40 588.36 L63.32 590.96 L61.24 588.36 Z" fill="none" stroke="#0000ff" stroke-width="1.35" stroke-linejoin="miter"/>
<path d="M107.35 499.90 L109.43 502.50 L107.35 505.10 L105.27 502.50 Z" fill="none" stroke="#0000ff" stroke-width="1.35" stroke-linejoin="miter"/>
<path d="M151.37 627.50 L153.45 630.10 L151.37 632.70 L149.29 630.10 Z" fill="none" stroke="#0000ff" stroke-width="1.35" stroke-linejoin="miter"/>
<path d="M195.62 578.41 L197.70 581.01 L195.62 583.61 L193.54 581.01 Z" fill="none" stroke="#0000ff" stroke-width="1.35" stroke-linejoin="miter"/>
<path d="M239.42 575.23 L241.50 577.83 L239.42 580.43 L237.34 577.83 Z" fill="none" stroke="#0000ff" stroke-width="1.35" stroke-linejoin="miter"/>
<path d="M283.45 566.68 L285.53 569.28 L283.45 571.88 L281.37 569.28 Z" fill="none" stroke="#0000ff" stroke-width="1.35" stroke-linejoin="miter"/>
<path d="M326.80 551.18 L328.88 553.78 L326.80 556.38 L324.72 553.78 Z" fill="none" stroke="#0000ff" stroke-width="1.35" stroke-linejoin="miter"/>
<text x="44.4" y="507.00" font-size="13.1" text-anchor="end" textLength="6.00" lengthAdjust="spacingAndGlyphs">0</text>
<text x="44.4" y="546.75" font-size="13.1" text-anchor="end" textLength="12.00" lengthAdjust="spacingAndGlyphs">20</text>
<rect x="22.9" y="541.75" width="7.2" height="0.95" fill="#111"/>
<text x="44.4" y="586.50" font-size="13.1" text-anchor="end" textLength="12.00" lengthAdjust="spacingAndGlyphs">40</text>
<rect x="22.9" y="581.50" width="7.2" height="0.95" fill="#111"/>
<text x="44.4" y="626.25" font-size="13.1" text-anchor="end" textLength="12.00" lengthAdjust="spacingAndGlyphs">60</text>
<rect x="22.9" y="621.25" width="7.2" height="0.95" fill="#111"/>
<text x="44.4" y="666.00" font-size="13.1" text-anchor="end" textLength="12.00" lengthAdjust="spacingAndGlyphs">80</text>
<rect x="22.9" y="661.00" width="7.2" height="0.95" fill="#111"/>
<text x="71.36" y="674.50" font-size="13.2" text-anchor="middle" textLength="11.40" lengthAdjust="spacingAndGlyphs">80</text>
<text x="116.28" y="674.50" font-size="13.2" text-anchor="middle" textLength="11.40" lengthAdjust="spacingAndGlyphs">90</text>
<text x="161.21" y="674.50" font-size="13.2" text-anchor="middle" textLength="17.10" lengthAdjust="spacingAndGlyphs">100</text>
<text x="206.13" y="674.50" font-size="13.2" text-anchor="middle" textLength="17.10" lengthAdjust="spacingAndGlyphs">110</text>
<text x="251.05" y="674.50" font-size="13.2" text-anchor="middle" textLength="17.10" lengthAdjust="spacingAndGlyphs">120</text>
<text x="295.98" y="674.50" font-size="13.2" text-anchor="middle" textLength="17.10" lengthAdjust="spacingAndGlyphs">130</text>
<text x="340.90" y="674.50" font-size="13.2" text-anchor="middle" textLength="17.10" lengthAdjust="spacingAndGlyphs">140</text>
<text x="194.6" y="693.00" font-size="13.8" text-anchor="middle" textLength="94" lengthAdjust="spacingAndGlyphs">Frequency (GHz)</text>
<text x="184.50" y="708.20" font-size="12.3" text-anchor="middle">(c)</text>
<text transform="translate(9.8 582.50) rotate(-90)" font-size="13.3" text-anchor="middle" textLength="103.5" lengthAdjust="spacingAndGlyphs">S-Parameters (dB)</text>
<path d="M72.8 489.40 H93.5" stroke="#ff0000" stroke-width="1.45"/>
<circle cx="83.30" cy="489.40" r="2.55" fill="#fff" stroke="#ff0000" stroke-width="1.3"/><path d="M80.75 489.40 h5.1" stroke="#ff0000" stroke-width="1.3"/>
<text x="97.6" y="492.80" font-size="12.6" font-style="italic">S</text><text x="104.9" y="494.00" font-size="7.8">21</text>
<text x="117.2" y="492.80" font-size="12" textLength="82" lengthAdjust="spacingAndGlyphs">Filter 3 w/o SL</text>
<path d="M200.8 489.40 H223" stroke="#0000ff" stroke-width="1.4" stroke-dasharray="4 2.2"/>
<path d="M211.90 486.80 L213.98 489.40 L211.90 492.00 L209.82 489.40 Z" fill="none" stroke="#0000ff" stroke-width="1.35" stroke-linejoin="miter"/>
<text x="226.2" y="492.80" font-size="12.6" font-style="italic">S</text><text x="233.6" y="494.00" font-size="7.8">21</text>
<text x="246.2" y="492.80" font-size="12" textLength="74.3" lengthAdjust="spacingAndGlyphs">Filter 3 w. SL</text>
</svg></body></html>
